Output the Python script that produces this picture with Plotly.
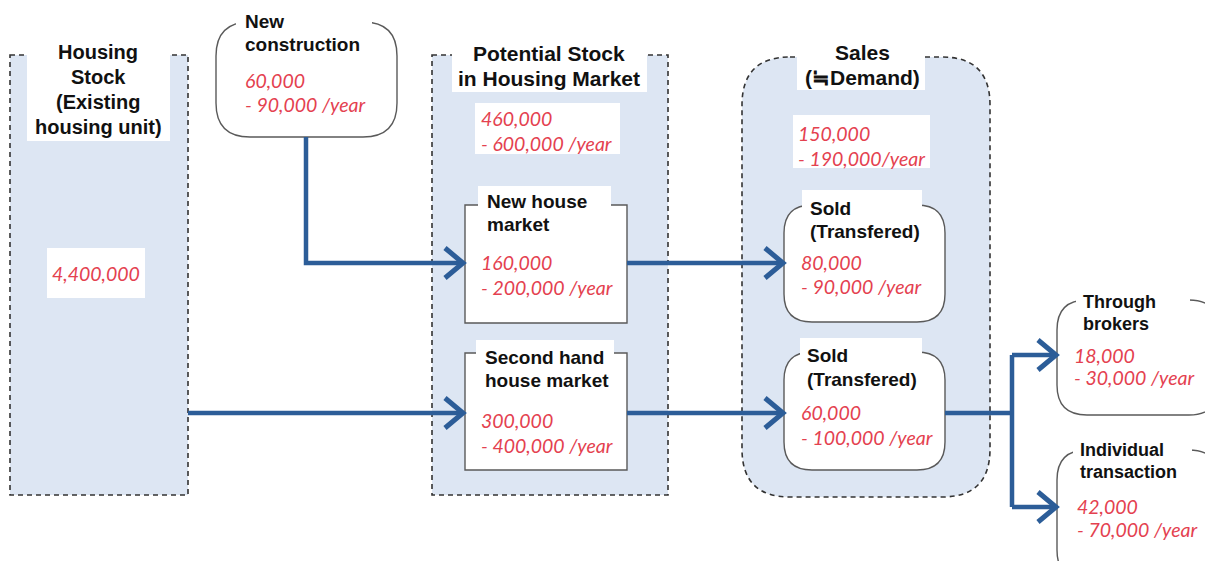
import plotly.graph_objects as go

W, H = 1213, 561
PAGE_MARGIN = 8  # default body margin of the html page

# ---- diagram text ----
node_keys = ["stock", "newcon", "potential", "newhouse", "second",
             "sales", "sold1", "sold2", "brokers", "individual"]
node_titles = [
    ["Housing", "Stock", "(Existing", "housing unit)"],
    ["New", "construction"],
    ["Potential Stock", "in Housing Market"],
    ["New house", "market"],
    ["Second hand", "house market"],
    ["Sales", "(≒Demand)"],
    ["Sold", "(Transfered)"],
    ["Sold", "(Transfered)"],
    ["Through", "brokers"],
    ["Individual", "transaction"],
]
range_low = ["4,400,000", "60,000", "460,000", "160,000", "300,000",
             "150,000", "80,000", "60,000", "18,000", "42,000"]
range_high = ["", "- 90,000 /year", "- 600,000 /year", "- 200,000 /year",
              "- 400,000 /year", "- 190,000/year", "- 90,000 /year",
              "- 100,000 /year", "- 30,000 /year", "- 70,000 /year"]

# ---- layout of the drawing (pixels, y downwards) ----
# box: x0, y0, x1, y1, corner radius ; kind: container / rect / round
geo = {
    "stock": dict(box=(10, 55, 188, 495, 0), kind="container",
                  tbg=(27, 38, 170, 141), t=(98, 52, 25, "center", 20),
                  vbg=(47, 248, 145, 298), v=(96, 273, 24, "center")),
    "newcon": dict(box=(216, 22, 397, 137, 34), kind="round",
                   tbg=(236, 4, 372, 56), t=(243, 21, 23, "left", 19),
                   v=(243, 80, 24, "left")),
    "potential": dict(box=(432, 55, 668, 495, 0), kind="container",
                      tbg=(452, 38, 647, 92), t=(549, 53, 25, "center", 21),
                      vbg=(475, 103, 620, 154), v=(479, 118, 25, "left")),
    "newhouse": dict(box=(465, 205, 627, 323, 0), kind="rect",
                     tbg=(478, 186, 611, 238), t=(485, 201, 23, "left", 19),
                     v=(479, 262, 25, "left")),
    "second": dict(box=(465, 353, 627, 470, 0), kind="rect",
                   tbg=(476, 340, 614, 393), t=(483, 357, 23, "left", 19),
                   v=(479, 420, 25, "left")),
    "sales": dict(box=(742, 57, 990, 497, 48), kind="container",
                  tbg=(797, 38, 925, 90), t=(862, 52, 25, "center", 21),
                  vbg=(793, 115, 930, 168), v=(796, 133, 25, "left")),
    "sold1": dict(box=(784, 205, 945, 322, 28), kind="round",
                  tbg=(802, 190, 922, 244), t=(808, 208, 23, "left", 19),
                  v=(799, 262, 24, "left")),
    "sold2": dict(box=(784, 352, 945, 470, 28), kind="round",
                  tbg=(800, 338, 922, 392), t=(805, 355, 24, "left", 19),
                  v=(799, 412, 25, "left")),
    "brokers": dict(box=(1057, 300, 1219, 415, 30), kind="round",
                    tbg=(1076, 285, 1190, 336), t=(1081, 302, 22, "left", 18),
                    v=(1072, 355, 22, "left")),
    "individual": dict(box=(1057, 450, 1219, 580, 30), kind="round",
                       tbg=(1073, 436, 1192, 487), t=(1078, 450, 22, "left", 18),
                       v=(1075, 506, 23, "left")),
}

# flow routes (polylines); last point is the arrow tip
flows = [
    [(306, 137), (306, 263), (463, 263)],
    [(188, 413), (463, 413)],
    [(627, 263), (783, 263)],
    [(627, 413), (783, 413)],
    [(945, 413), (1012, 413)],
    [(1012, 355), (1012, 507)],
    [(1012, 355), (1056, 355)],
    [(1012, 507), (1056, 507)],
]
arrow_tips = [True, True, True, True, False, False, True, True]

BLUE_FILL = "#dde6f3"
FLOW = "#2c5d98"
RED = "#e4414f"
INK = "#111111"


def rrect(x0, y0, x1, y1, r):
    if r == 0:
        return f"M{x0},{y0} L{x1},{y0} L{x1},{y1} L{x0},{y1} Z"
    return (f"M{x0 + r},{y0} L{x1 - r},{y0} Q{x1},{y0} {x1},{y0 + r} "
            f"L{x1},{y1 - r} Q{x1},{y1} {x1 - r},{y1} L{x0 + r},{y1} "
            f"Q{x0},{y1} {x0},{y1 - r} L{x0},{y0 + r} Q{x0},{y0} {x0 + r},{y0} Z")


fig = go.Figure()
shapes = []
annotations = []

# containers and boxes
for key in node_keys:
    g = geo[key]
    x0, y0, x1, y1, r = g["box"]
    if g["kind"] == "container":
        shapes.append(dict(type="path", path=rrect(x0, y0, x1, y1, r),
                           fillcolor=BLUE_FILL,
                           line=dict(color="#333333", width=1.6, dash="5px,4px")))
for key in node_keys:
    g = geo[key]
    if "vbg" in g:
        a, b, c, d = g["vbg"]
        shapes.append(dict(type="rect", x0=a, y0=b, x1=c, y1=d,
                           fillcolor="white", line=dict(width=0)))
for key in node_keys:
    g = geo[key]
    x0, y0, x1, y1, r = g["box"]
    if g["kind"] != "container":
        shapes.append(dict(type="path", path=rrect(x0, y0, x1, y1, r),
                           fillcolor="white",
                           line=dict(color="#5a5a5a", width=1.4)))
for key in node_keys:
    a, b, c, d = geo[key]["tbg"]
    shapes.append(dict(type="rect", x0=a, y0=b, x1=c, y1=d,
                       fillcolor="white", line=dict(width=0)))

# flows
for route, tip in zip(flows, arrow_tips):
    path = "M" + " L".join(f"{x},{y}" for x, y in route)
    shapes.append(dict(type="path", path=path,
                       line=dict(color=FLOW, width=4.5)))
    if tip:
        tx, ty = route[-1]
        chev = f"M{tx - 18},{ty - 15} L{tx},{ty} L{tx - 18},{ty + 15}"
        shapes.append(dict(type="path", path=chev,
                           line=dict(color=FLOW, width=5)))

# texts
for key, title, lo, hi in zip(node_keys, node_titles, range_low, range_high):
    g = geo[key]
    tx, ty, step, align, size = g["t"]
    for i, line in enumerate(title):
        annotations.append(dict(
            x=tx, y=ty + i * step, text=f"<b>{line}</b>", showarrow=False,
            xanchor=align, yanchor="middle",
            font=dict(family="Liberation Sans, Arial", size=size, color=INK)))
    vx, vy, vstep, valign = g["v"]
    for i, line in enumerate([lo, hi]):
        if not line:
            continue
        annotations.append(dict(
            x=vx, y=vy + i * vstep, text=f"<i>{line}</i>", showarrow=False,
            xanchor=valign, yanchor="middle",
            font=dict(family="Lato, Carlito, sans-serif", size=19.5, color=RED)))

fig.update_layout(
    width=W - PAGE_MARGIN, height=H - PAGE_MARGIN,
    margin=dict(l=0, r=0, t=0, b=0),
    paper_bgcolor="white", plot_bgcolor="white",
    xaxis=dict(range=[PAGE_MARGIN, W], visible=False, fixedrange=True),
    yaxis=dict(range=[H, PAGE_MARGIN], visible=False, fixedrange=True),
    shapes=shapes, annotations=annotations,
    showlegend=False,
)

fig.write_html("out.html")
